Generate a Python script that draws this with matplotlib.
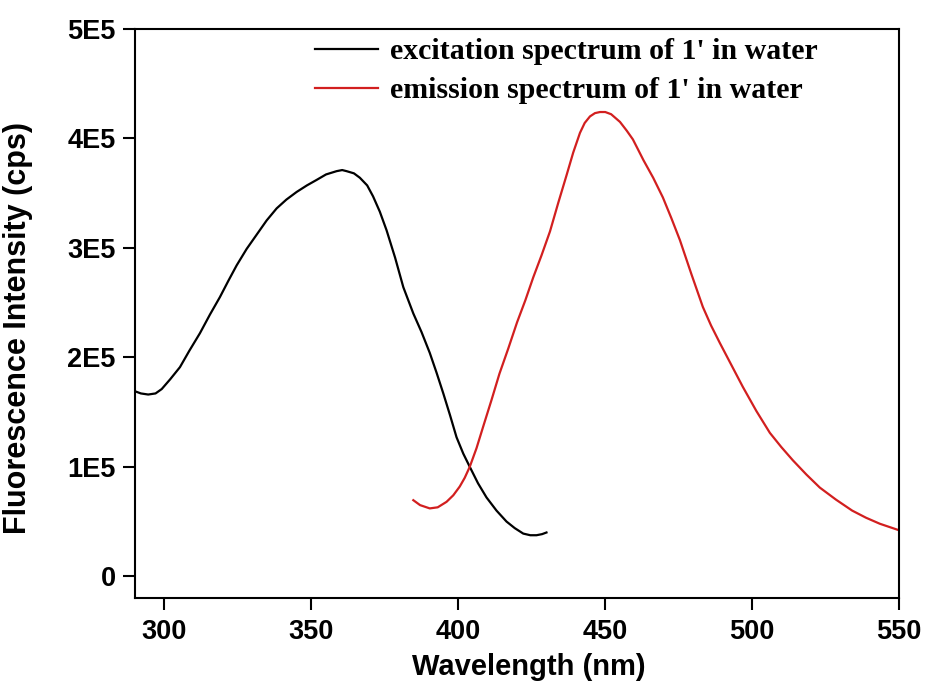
import numpy as np
import matplotlib
matplotlib.use('Agg')
import matplotlib.pyplot as plt
from matplotlib.ticker import FuncFormatter

# excitation spectrum (black), intensity in 1E5 cps
exc_wl = [290, 292, 294.5, 297, 299.1, 302, 305.3, 308.5, 312.1, 315.5, 318.9,
          321.8, 324.6, 328, 331.4, 334.8, 338.2, 341.5, 345, 348.5, 351.8,
          355, 358.6, 360.5, 362, 364.5, 366.5, 369, 371, 373.3, 375.6, 378.5,
          381.3, 384.7, 387.5, 390.3, 392.6, 394.9, 397.2, 399.4, 401.7, 403.9,
          406.7, 409.6, 413, 416.4, 419.2, 422.1, 424.5, 426.6, 428.5, 430]
exc_int = [1.69, 1.67, 1.66, 1.67, 1.71, 1.80, 1.91, 2.06, 2.22, 2.39, 2.55,
           2.70, 2.84, 2.99, 3.12, 3.25, 3.36, 3.44, 3.51, 3.57, 3.62,
           3.67, 3.70, 3.71, 3.70, 3.68, 3.64, 3.57, 3.47, 3.33, 3.16, 2.91,
           2.64, 2.40, 2.23, 2.04, 1.86, 1.67, 1.47, 1.27, 1.12, 1.00,
           0.85, 0.72, 0.60, 0.50, 0.44, 0.39, 0.375, 0.375, 0.385, 0.40]

# emission spectrum (red)
em_wl = [384.7, 387, 390.3, 393, 396, 398.3, 400.5, 402.2, 403.9, 406.2, 408.5,
         411.3, 414, 417, 420, 422.8, 425.5, 428.3, 431.2, 434, 436.8, 439.1,
         441.4, 443, 444.8, 446.5, 448.2, 450, 452, 455, 457.3, 459.4, 461.3,
         463, 466.3, 469.6, 472.5, 475.4, 479.3, 483.2, 486, 489, 492.9, 496.8,
         501.4, 506, 509.9, 513.8, 518.4, 523, 528.5, 534, 538.7, 543.4, 546.7,
         550]
em_int = [0.695, 0.65, 0.62, 0.63, 0.68, 0.74, 0.82, 0.90, 1.00, 1.17, 1.37,
          1.61, 1.85, 2.08, 2.32, 2.52, 2.73, 2.93, 3.15, 3.41, 3.66, 3.87,
          4.05, 4.14, 4.20, 4.23, 4.24, 4.24, 4.22, 4.15, 4.07, 3.99, 3.89,
          3.80, 3.64, 3.46, 3.27, 3.07, 2.76, 2.46, 2.29, 2.13, 1.93, 1.73,
          1.51, 1.31, 1.18, 1.06, 0.93, 0.81, 0.70, 0.60, 0.535, 0.48, 0.45,
          0.42]

labels = ["excitation spectrum of 1' in water", "emission spectrum of 1' in water"]
y_ticks = [0, 1e5, 2e5, 3e5, 4e5, 5e5]
x_ticks = [300, 350, 400, 450, 500, 550]

fig = plt.figure(figsize=(9.27, 6.86), dpi=100)
ax = fig.add_axes([0.1456, 0.128, 0.8244, 0.830])

ax.plot(exc_wl, np.array(exc_int) * 1e5, color='black', lw=1.6, label=labels[0])
ax.plot(em_wl, np.array(em_int) * 1e5, color='#d21f1f', lw=1.6, label=labels[1])

ax.set_xlim(290, 550)
ax.set_ylim(-0.2e5, 5e5)
ax.set_xticks(x_ticks)
ax.set_yticks(y_ticks)
ax.yaxis.set_major_formatter(FuncFormatter(lambda v, p: '0' if v == 0 else f'{int(round(v / 1e5))}E5'))

for s in ax.spines.values():
    s.set_linewidth(1.5)
ax.tick_params(axis='both', direction='out', length=8.5, width=1.5,
               top=False, right=False)
ax.tick_params(axis='y', pad=5.5)
ax.tick_params(axis='x', pad=6.5)
for t in ax.get_xticklabels() + ax.get_yticklabels():
    t.set_fontfamily('Liberation Sans')
    t.set_fontweight('bold')
    t.set_fontsize(19.5)

ax.set_xlabel('Wavelength (nm)', fontfamily='Liberation Sans', fontweight='bold', fontsize=21)
ax.set_ylabel('Fluorescence Intensity (cps)', fontfamily='Liberation Sans', fontweight='bold', fontsize=22)
ax.xaxis.set_label_coords(0.515, -0.097)
ax.yaxis.set_label_coords(-0.134, 0.4745)

ax.legend(loc='upper left', bbox_to_anchor=(0.2356, 0.983), frameon=False,
          prop={'family': 'Liberation Serif', 'weight': 'bold', 'size': 21.5},
          handlelength=2.1, handletextpad=0.4, labelspacing=0.4,
          borderpad=0, borderaxespad=0)

fig.savefig('out.png', dpi=100)
